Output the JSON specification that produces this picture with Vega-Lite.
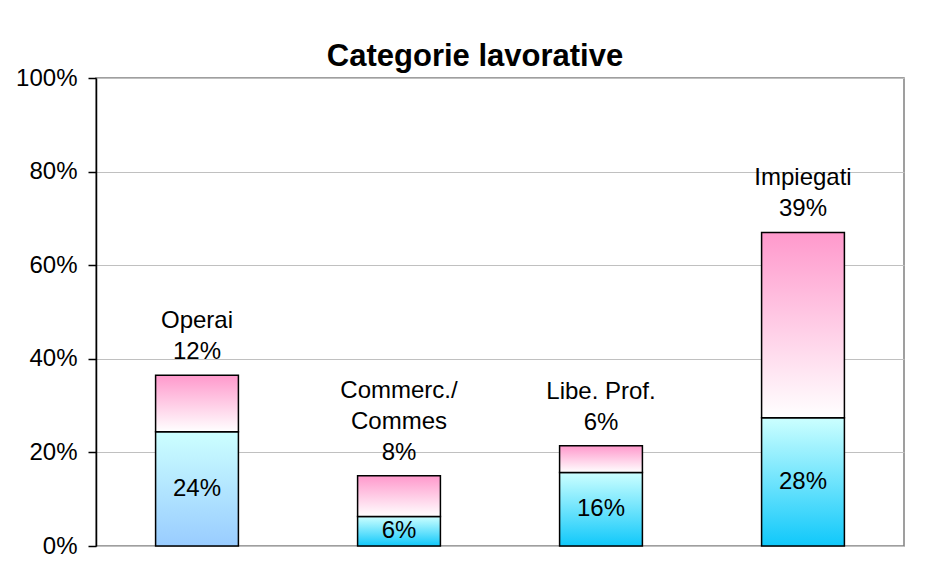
{
  "$schema": "https://vega.github.io/schema/vega-lite/v6.json",
  "width": 808,
  "height": 468,
  "autosize": "none",
  "padding": {"left": 96, "top": 78, "right": 30, "bottom": 31},
  "background": "white",
  "title": {"text": "Categorie lavorative", "font": "Liberation Sans", "fontSize": 31, "fontWeight": "bold", "color": "black", "anchor": "middle", "offset": 10, "dx": -25, "dy": 17},
  "config": {
    "view": {"stroke": "#808080", "strokeWidth": 1.5},
    "font": "Liberation Sans"
  },
  "data": {"values": [
    {"categoria": "Operai", "livello": 1, "valore": 0.244, "etichetta": "24%"},
    {"categoria": "Operai", "livello": 2, "valore": 0.121, "etichetta": "12%", "nome": "Operai"},
    {"categoria": "Commerc./Commes", "livello": 1, "valore": 0.063, "etichetta": "6%"},
    {"categoria": "Commerc./Commes", "livello": 2, "valore": 0.087, "etichetta": "8%", "nome": "Commes", "nome_sopra": "Commerc./"},
    {"categoria": "Libe. Prof.", "livello": 1, "valore": 0.157, "etichetta": "16%"},
    {"categoria": "Libe. Prof.", "livello": 2, "valore": 0.057, "etichetta": "6%", "nome": "Libe. Prof."},
    {"categoria": "Impiegati", "livello": 1, "valore": 0.274, "etichetta": "28%"},
    {"categoria": "Impiegati", "livello": 2, "valore": 0.396, "etichetta": "39%", "nome": "Impiegati"}
  ]},
  "transform": [
    {"stack": "valore", "groupby": ["categoria"], "sort": [{"field": "livello", "order": "ascending"}], "as": ["v0", "v1"]}
  ],
  "encoding": {
    "x": {"field": "categoria", "type": "nominal", "sort": ["Operai", "Commerc./Commes", "Libe. Prof.", "Impiegati"], "axis": null, "scale": {"paddingInner": 0.59, "paddingOuter": 0.295}}
  },
  "layer": [
    {
      "transform": [{"filter": "datum.livello == 1 && datum.categoria == 'Operai'"}],
      "mark": {"type": "bar", "stroke": "black", "strokeWidth": 1.5, "color": {"gradient": "linear", "x1": 0, "y1": 0, "x2": 0, "y2": 1, "stops": [{"offset": 0, "color": "#ccffff"}, {"offset": 1, "color": "#99ccff"}]}},
      "encoding": {
        "y": {"field": "v0", "type": "quantitative", "scale": {"domain": [0, 1], "nice": false},
          "axis": {"values": [0, 0.2, 0.4, 0.6, 0.8, 1], "format": ".0%", "title": null, "labelFontSize": 24, "labelColor": "black", "labelFont": "Liberation Sans", "labelPadding": 11, "tickSize": 8, "tickColor": "black", "tickWidth": 1.5, "domainColor": "black", "domainWidth": 1.5, "gridColor": "#c0c0c0", "gridWidth": 1}},
        "y2": {"field": "v1"}
      }
    },
    {
      "transform": [{"filter": "datum.livello == 1 && datum.categoria != 'Operai'"}],
      "mark": {"type": "bar", "stroke": "black", "strokeWidth": 1.5, "color": {"gradient": "linear", "x1": 0, "y1": 0, "x2": 0, "y2": 1, "stops": [{"offset": 0, "color": "#ccffff"}, {"offset": 1, "color": "#10c8fa"}]}},
      "encoding": {
        "y": {"field": "v0", "type": "quantitative", "scale": {"domain": [0, 1], "nice": false}, "axis": null},
        "y2": {"field": "v1"}
      }
    },
    {
      "transform": [{"filter": "datum.livello == 2"}],
      "mark": {"type": "bar", "stroke": "black", "strokeWidth": 1.5, "color": {"gradient": "linear", "x1": 0, "y1": 0, "x2": 0, "y2": 1, "stops": [{"offset": 0, "color": "#ff99cc"}, {"offset": 1, "color": "#ffffff"}]}},
      "encoding": {
        "y": {"field": "v0", "type": "quantitative", "scale": {"domain": [0, 1], "nice": false}, "axis": null},
        "y2": {"field": "v1"}
      }
    },
    {
      "transform": [{"filter": "datum.livello == 1"}],
      "mark": {"type": "text", "font": "Liberation Sans", "fontSize": 24, "color": "black", "baseline": "middle", "align": "center"},
      "encoding": {
        "y": {"field": "valore", "type": "quantitative", "scale": {"domain": [0, 2], "nice": false}, "axis": null},
        "text": {"field": "etichetta"}
      }
    },
    {
      "transform": [{"filter": "datum.livello == 2"}],
      "mark": {"type": "text", "font": "Liberation Sans", "fontSize": 24, "color": "black", "baseline": "bottom", "align": "center", "dy": -11},
      "encoding": {
        "y": {"field": "v1", "type": "quantitative", "scale": {"domain": [0, 1], "nice": false}, "axis": null},
        "text": {"field": "etichetta"}
      }
    },
    {
      "transform": [{"filter": "datum.livello == 2"}],
      "mark": {"type": "text", "font": "Liberation Sans", "fontSize": 24, "color": "black", "baseline": "bottom", "align": "center", "dy": -42},
      "encoding": {
        "y": {"field": "v1", "type": "quantitative", "scale": {"domain": [0, 1], "nice": false}, "axis": null},
        "text": {"field": "nome"}
      }
    },
    {
      "transform": [{"filter": "datum.livello == 2 && isValid(datum.nome_sopra)"}],
      "mark": {"type": "text", "font": "Liberation Sans", "fontSize": 24, "color": "black", "baseline": "bottom", "align": "center", "dy": -73},
      "encoding": {
        "y": {"field": "v1", "type": "quantitative", "scale": {"domain": [0, 1], "nice": false}, "axis": null},
        "text": {"field": "nome_sopra"}
      }
    }
  ],
  "resolve": {"scale": {"y": "independent"}}
}
